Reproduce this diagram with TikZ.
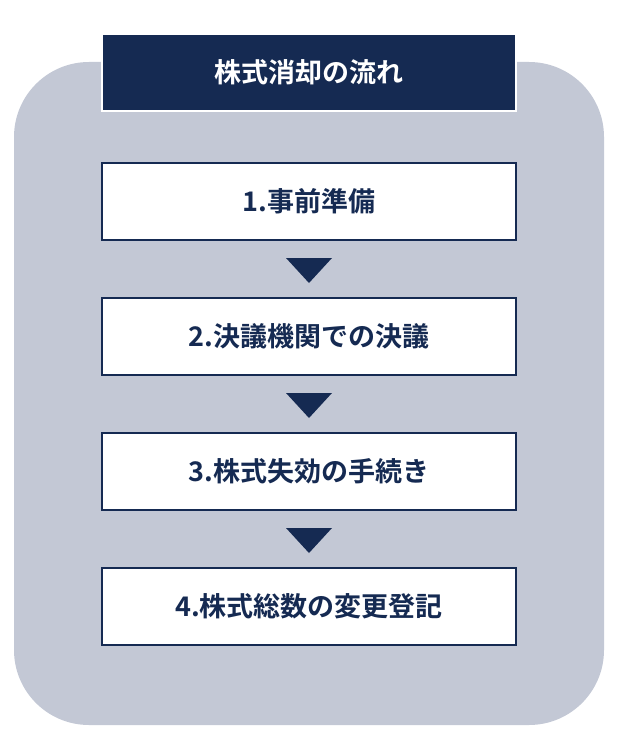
\documentclass[tikz,border=0pt]{standalone}
\usepackage{fontspec}
\newfontfamily\cjk{Noto Sans CJK JP}[BoldFont={* Bold}]
\definecolor{navy}{HTML}{152A52}
\definecolor{bgc}{HTML}{C3C8D5}
\tikzset{stepbox/.style={draw=navy,line width=1.5pt,fill=white,minimum width=414pt,minimum height=77pt,font=\cjk\bfseries\fontsize{27}{30}\selectfont,text=navy},
titlebox/.style={draw=white,line width=1.5pt,fill=navy,minimum width=414pt,minimum height=77pt,font=\cjk\bfseries\fontsize{27}{30}\selectfont,text=white},
tri/.style={fill=navy}}
\begin{document}
\begin{tikzpicture}[x=1pt,y=-1pt]
\useasboundingbox (0,0) rectangle (620,733);
\fill[bgc,rounded corners=75pt] (14,62) rectangle (604,725);
\node[titlebox] (t) at (309,72.5) {株式消却の流れ};
\node[stepbox] (s1) at (309,201.5) {1.事前準備};
\node[stepbox] (s2) at (309,336.5) {2.決議機関での決議};
\node[stepbox] (s3) at (309,471.5) {3.株式失効の手続き};
\node[stepbox] (s4) at (309,606.5) {4.株式総数の変更登記};
\foreach \y in {258,393,528}{\fill[tri] (286,\y) -- (332,\y) -- (309,\y+25) -- cycle;}
\end{tikzpicture}
\end{document}
